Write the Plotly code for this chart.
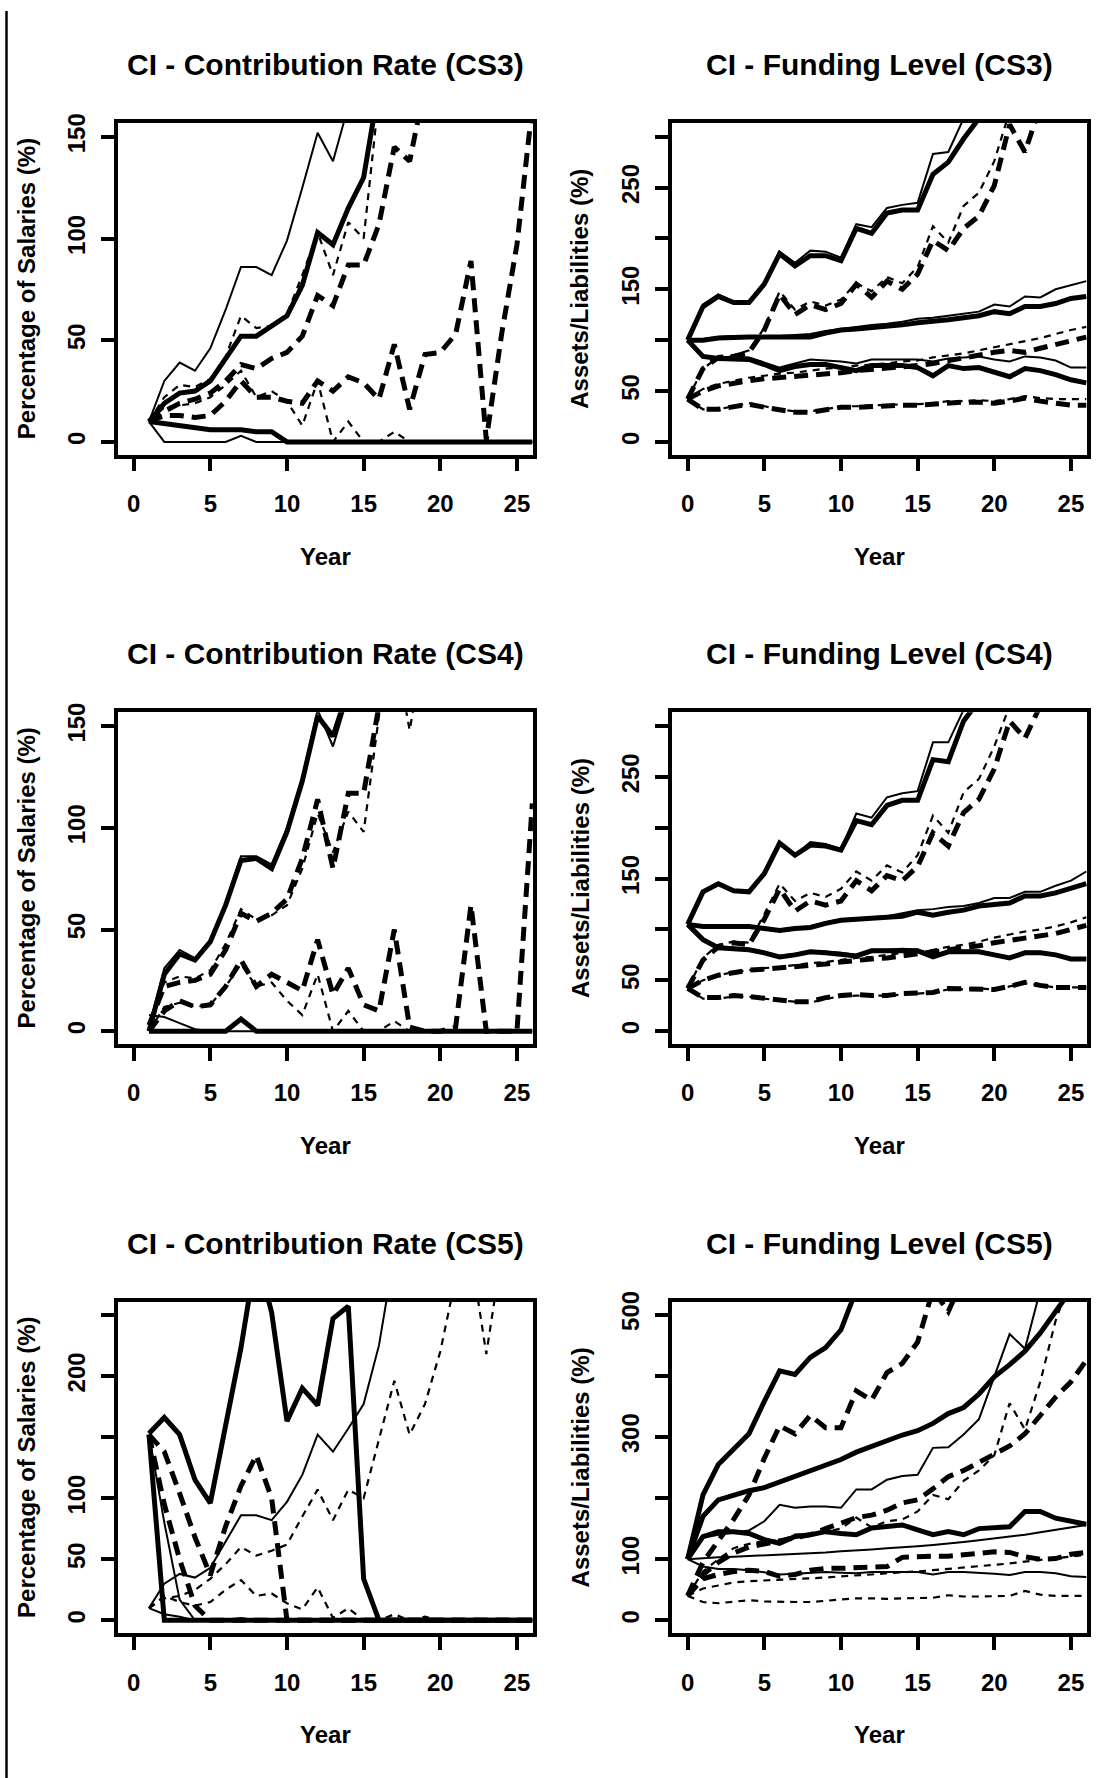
import plotly.graph_objects as go

# ---------------- data ----------------
YEARS_CR = list(range(1, 27))   # contribution-rate panels start at year 1
YEARS_FL = list(range(0, 27))   # funding-level panels start at year 0
X_TICKS = [0, 5, 10, 15, 20, 25]

# CS3 contribution rate
cs3_cr_thin_solid_hi = [10, 30, 39, 35, 46, 65, 86, 86, 82, 99, 125, 152, 138, 165]
cs3_cr_thick_solid_hi = [10, 19, 24, 25, 30, 41, 52, 52, 57, 62, 77, 103, 97, 115, 130, 175]
cs3_cr_thin_dash_hi = [10, 22, 28, 27, 31, 42, 62, 56, 57, 63, 82, 103, 82, 108, 100, 170]
cs3_cr_thick_dash_hi = [10, 15, 19, 21, 24, 30, 38, 36, 41, 44, 52, 72, 67, 87, 87, 107, 145, 138, 175]
cs3_cr_thick_dash_mid = [10, 13, 13, 12, 13, 20, 30, 22, 22, 20, 19, 30, 25, 32, 29, 21, 48, 16, 43, 44, 53, 89, 1, 53, 97, 165]
cs3_cr_thin_dash_lo = [10, 17, 18, 19, 22, 28, 35, 22, 25, 20, 8, 30, 0, 10, 0, 0, 5, 0, 0, 0, 0, 0, 0, 0, 0, 0]
cs3_cr_thick_solid_lo = [10, 9, 8, 7, 6, 6, 6, 5, 5, 0, 0, 0, 0, 0, 0, 0, 0, 0, 0, 0, 0, 0, 0, 0, 0, 0]
cs3_cr_thin_solid_lo = [10, 0, 0, 0, 0, 0, 3, 0, 0, 0, 0, 0, 0, 0, 0, 0, 0, 0, 0, 0, 0, 0, 0, 0, 0, 0]

# CS3 funding level
fl3_thick_solid_hi = [100, 133, 143, 137, 137, 155, 185, 173, 183, 183, 178, 210, 205, 225, 228, 228, 263, 275, 298, 318]
fl3_thin_solid_hi = [100, 135, 145, 138, 138, 157, 187, 176, 188, 187, 181, 214, 211, 230, 233, 235, 283, 285, 318]
fl3_thin_solid_mid = [100, 101, 103, 104, 104, 104, 104, 105, 106, 109, 111, 113, 115, 116, 118, 121, 122, 124, 126, 128, 135, 133, 143, 142, 150, 154, 158]
fl3_thick_solid_mid = [100, 100, 102, 103, 103, 103, 103, 103, 103, 107, 110, 111, 112, 113, 115, 117, 118, 120, 122, 124, 128, 126, 133, 133, 136, 141, 143]
fl3_thin_solid_lo = [100, 85, 83, 84, 83, 78, 73, 77, 81, 80, 79, 77, 81, 81, 81, 81, 79, 82, 83, 84, 81, 79, 84, 83, 80, 73, 73]
fl3_thick_solid_lo = [100, 84, 82, 82, 81, 76, 70, 74, 76, 76, 73, 70, 75, 75, 75, 73, 65, 75, 72, 73, 68, 64, 72, 70, 66, 61, 58]
fl3_thick_dash_hi = [42, 72, 83, 84, 88, 110, 145, 125, 135, 130, 136, 155, 142, 158, 150, 165, 198, 188, 210, 222, 252, 312, 285, 330]
fl3_thin_dash_hi = [42, 72, 83, 85, 90, 112, 148, 130, 138, 134, 140, 156, 148, 162, 156, 172, 212, 196, 232, 245, 276, 325]
fl3_thin_dash_mid = [42, 52, 57, 60, 63, 65, 67, 68, 70, 72, 73, 75, 76, 77, 79, 80, 83, 85, 87, 90, 93, 96, 99, 102, 106, 110, 113]
fl3_thick_dash_mid = [42, 50, 55, 58, 60, 62, 63, 64, 65, 67, 68, 70, 71, 72, 74, 75, 77, 80, 82, 85, 88, 90, 88, 92, 96, 100, 103]
fl3_thin_dash_lo = [42, 32, 32, 35, 38, 35, 32, 30, 30, 32, 35, 35, 36, 36, 37, 37, 38, 40, 40, 41, 40, 42, 45, 43, 42, 42, 42]
fl3_thick_dash_lo = [42, 32, 32, 35, 37, 34, 31, 29, 29, 31, 34, 34, 35, 35, 36, 36, 37, 39, 39, 39, 38, 40, 43, 40, 38, 36, 36]

# CS4 contribution rate
cs4_cr_thin_solid_hi = [2, 31, 40, 36, 45, 63, 86, 86, 82, 100, 125, 158, 140, 165]
cs4_cr_thick_solid_hi = [0, 28, 38, 35, 44, 62, 84, 85, 80, 98, 123, 155, 145, 168]
cs4_cr_thin_dash_hi = [4, 24, 27, 26, 30, 43, 60, 55, 57, 62, 80, 107, 88, 108, 98, 155, 190, 148, 190]
cs4_cr_thick_dash_hi = [3, 22, 24, 25, 28, 40, 58, 54, 58, 65, 85, 114, 80, 117, 117, 160]
cs4_cr_thick_dash_mid = [0, 10, 15, 12, 13, 22, 35, 22, 28, 24, 20, 45, 18, 31, 13, 10, 50, 2, 0, 0, 2, 62, 0, 0, 0, 112]
cs4_cr_thin_dash_lo = [0, 12, 14, 12, 13, 22, 33, 22, 24, 15, 8, 28, 0, 10, 0, 0, 5, 0, 0, 0, 0, 0, 0, 0, 0, 0]
cs4_cr_thick_solid_lo = [0, 0, 0, 0, 0, 0, 6, 0, 0, 0, 0, 0, 0, 0, 0, 0, 0, 0, 0, 0, 0, 0, 0, 0, 0, 0]
cs4_cr_thin_solid_lo = [8, 7, 4, 1, 0, 0, 0, 0, 0, 0, 0, 0, 0, 0, 0, 0, 0, 0, 0, 0, 0, 0, 0, 0, 0, 0]

# CS4 funding level
fl4_thin_solid_hi = [105, 137, 145, 138, 137, 155, 185, 173, 186, 184, 179, 214, 210, 230, 234, 236, 284, 284, 316]
fl4_thick_solid_hi = [105, 137, 145, 138, 137, 155, 185, 173, 183, 182, 178, 207, 203, 222, 227, 227, 267, 265, 305, 325]
fl4_thin_solid_mid = [105, 103, 103, 103, 103, 101, 100, 102, 103, 107, 110, 111, 112, 113, 116, 119, 120, 122, 123, 126, 131, 131, 137, 137, 143, 148, 157]
fl4_thick_solid_mid = [105, 103, 103, 103, 103, 101, 99, 101, 102, 106, 109, 110, 111, 111, 113, 117, 114, 117, 119, 123, 125, 126, 133, 133, 136, 140, 145]
fl4_thick_solid_lo = [105, 90, 82, 81, 80, 77, 73, 75, 78, 77, 76, 74, 79, 79, 80, 79, 73, 78, 78, 78, 75, 72, 77, 77, 75, 71, 71]
fl4_thin_solid_lo = [105, 91, 83, 82, 81, 78, 74, 76, 79, 78, 77, 75, 80, 80, 81, 80, 74, 79, 79, 79, 76, 73, 78, 78, 76, 72, 72]
fl4_thick_dash_hi = [42, 70, 83, 87, 85, 110, 140, 118, 128, 124, 128, 148, 138, 153, 148, 162, 195, 182, 215, 228, 258, 305, 288, 320]
fl4_thin_dash_hi = [42, 72, 85, 88, 87, 115, 145, 128, 136, 132, 140, 157, 148, 163, 156, 173, 212, 195, 235, 248, 280, 320]
fl4_thin_dash_mid = [42, 50, 55, 58, 60, 62, 63, 65, 67, 68, 70, 72, 73, 75, 77, 78, 80, 83, 85, 88, 92, 95, 98, 100, 103, 107, 112]
fl4_thick_dash_mid = [42, 50, 55, 58, 60, 61, 62, 63, 64, 66, 68, 70, 71, 72, 74, 75, 77, 79, 81, 84, 87, 89, 91, 93, 96, 100, 104]
fl4_thick_dash_lo = [42, 33, 33, 35, 34, 32, 30, 29, 29, 33, 35, 36, 35, 35, 37, 37, 38, 42, 42, 42, 41, 44, 48, 45, 43, 43, 43]
fl4_thin_dash_lo = [42, 32, 32, 34, 34, 32, 30, 29, 28, 32, 34, 35, 35, 35, 36, 37, 38, 41, 41, 42, 41, 44, 47, 45, 43, 43, 43]

# CS5 contribution rate
cs5_cr_thick_solid_hi = [153, 166, 152, 115, 96, 160, 223, 300, 252, 163, 190, 176, 247, 257, 34, 0, 0, 0, 0, 0, 0, 0, 0, 0, 0, 0]
cs5_cr_thin_solid_hi = [10, 30, 38, 35, 43, 65, 86, 86, 82, 97, 119, 152, 138, 157, 177, 225, 300]
cs5_cr_thick_dash_hi = [152, 138, 104, 68, 37, 77, 110, 135, 100, 0, 0, 0, 0, 0, 0, 0, 0, 0, 0, 0, 0, 0, 0, 0, 0, 0]
cs5_cr_thick_dash_drop = [152, 95, 50, 12, 0, 0, 0, 0, 0, 0, 0, 0, 0, 0, 0, 0, 0, 0, 0, 0, 0, 0, 0, 0, 0, 0]
cs5_cr_thick_solid_drop = [152, 0, 0, 0, 0, 0, 0, 0, 0, 0, 0, 0, 0, 0, 0, 0, 0, 0, 0, 0, 0, 0, 0, 0, 0, 0]
cs5_cr_thin_solid_drop = [152, 80, 17, 0, 0, 0, 0, 0, 0, 0, 0, 0, 0, 0, 0, 0, 0, 0, 0, 0, 0, 0, 0, 0, 0, 0]
cs5_cr_thin_dash_hi = [10, 18, 20, 25, 34, 46, 60, 53, 57, 62, 85, 107, 82, 107, 100, 149, 196, 152, 177, 220, 280, 300, 218, 300]
cs5_cr_thin_dash_lo = [10, 20, 15, 12, 15, 25, 33, 20, 22, 14, 9, 27, 2, 10, 0, 0, 5, 0, 3, 0, 0, 0, 0, 0, 0, 0]
cs5_cr_thin_solid_lo = [10, 5, 3, 0, 0, 0, 2, 0, 0, 0, 0, 0, 0, 0, 0, 0, 0, 0, 0, 0, 0, 0, 0, 0, 0, 0]

# CS5 funding level
fl5_thick_solid_hi = [100, 205, 255, 280, 305, 358, 408, 402, 430, 446, 475, 540]
fl5_thick_dash_hi = [40, 95, 130, 165, 205, 265, 318, 305, 335, 315, 315, 375, 360, 405, 420, 455, 540, 505, 560]
fl5_thick_solid_curve = [100, 170, 197, 205, 212, 217, 226, 237, 245, 255, 263, 275, 285, 293, 303, 310, 322, 338, 348, 370, 398, 418, 440, 470, 503, 540]
fl5_thin_solid_hi = [100, 135, 140, 143, 147, 162, 189, 184, 186, 186, 184, 214, 214, 230, 236, 238, 282, 283, 304, 329, 397, 468, 444, 540]
fl5_thick_solid_mid = [100, 137, 145, 145, 142, 132, 126, 137, 140, 145, 142, 140, 151, 154, 156, 148, 140, 145, 140, 150, 151, 153, 178, 178, 167, 163, 157]
fl5_thin_solid_mid = [100, 102, 103, 104, 105, 106, 107, 108, 109, 111, 113, 114, 116, 118, 119, 121, 123, 125, 128, 131, 134, 136, 140, 144, 148, 152, 156]
fl5_thin_solid_lo = [100, 88, 84, 84, 82, 78, 75, 76, 78, 79, 78, 77, 79, 79, 79, 79, 75, 79, 79, 78, 76, 74, 79, 79, 77, 72, 71]
fl5_thick_dash_up2 = [40, 75, 95, 110, 120, 125, 130, 135, 140, 150, 160, 168, 172, 180, 192, 197, 215, 235, 245, 258, 270, 285, 305, 335, 365, 390, 425]
fl5_thin_dash_hi = [40, 80, 100, 118, 125, 130, 130, 140, 140, 145, 150, 168, 152, 162, 165, 178, 205, 198, 228, 245, 270, 355, 312, 390, 490, 560]
fl5_thick_dash_mid = [40, 68, 75, 80, 82, 80, 72, 75, 82, 85, 85, 86, 85, 88, 103, 105, 105, 105, 108, 110, 112, 111, 104, 100, 101, 108, 111]
fl5_thin_dash_mid = [40, 52, 57, 62, 64, 65, 66, 67, 68, 70, 72, 73, 75, 77, 78, 80, 82, 84, 86, 88, 90, 93, 96, 99, 101, 104, 107]
fl5_thin_dash_lo = [40, 30, 28, 30, 33, 31, 30, 30, 30, 32, 35, 36, 36, 35, 36, 37, 37, 41, 39, 39, 39, 40, 48, 42, 40, 40, 40]

# ---------------- styling ----------------
W, H = 1108, 1778
FONT = "Liberation Sans"
STYLES = {
    "thick": dict(width=5, dash="solid"),
    "thin": dict(width=2, dash="solid"),
    "thickdash": dict(width=5, dash="14px,8px"),
    "thindash": dict(width=2.2, dash="7px,6px"),
}

def px_x(p):
    return p / W

def px_y(p):
    return 1 - p / H

LEFT_DOM = [px_x(117.7), px_x(532.9)]
RIGHT_DOM = [px_x(671.7), px_x(1086.9)]
ROW_TOPS = [112.7, 705.7, 1298.7]
BOX_H = 333.6

panels = [
    dict(col=0, row=0, years=YEARS_CR, title="CI - Contribution Rate (CS3)", ytitle="Percentage of Salaries (%)",
         yrange=[-6.2, 156.8], ytick=[0, 50, 100, 150], ytext=["0", "50", "100", "150"],
         series=[(cs3_cr_thin_solid_hi, "thin"), (cs3_cr_thick_solid_hi, "thick"),
                 (cs3_cr_thin_dash_hi, "thindash"), (cs3_cr_thick_dash_hi, "thickdash"),
                 (cs3_cr_thick_dash_mid, "thickdash"), (cs3_cr_thin_dash_lo, "thindash"),
                 (cs3_cr_thin_solid_lo, "thin"), (cs3_cr_thick_solid_lo, "thick")]),
    dict(col=1, row=0, years=YEARS_FL, title="CI - Funding Level (CS3)", ytitle="Assets/Liabilities (%)",
         yrange=[-12.5, 313.5], ytick=[0, 50, 100, 150, 200, 250, 300], ytext=["0", "50", "", "150", "", "250", ""],
         series=[(fl3_thick_solid_hi, "thick"), (fl3_thin_solid_hi, "thin"),
                 (fl3_thin_solid_mid, "thin"), (fl3_thick_solid_mid, "thick"),
                 (fl3_thin_solid_lo, "thin"), (fl3_thick_solid_lo, "thick"),
                 (fl3_thick_dash_hi, "thickdash"), (fl3_thin_dash_hi, "thindash"),
                 (fl3_thin_dash_mid, "thindash"), (fl3_thick_dash_mid, "thickdash"),
                 (fl3_thin_dash_lo, "thindash"), (fl3_thick_dash_lo, "thickdash")]),
    dict(col=0, row=1, years=YEARS_CR, title="CI - Contribution Rate (CS4)", ytitle="Percentage of Salaries (%)",
         yrange=[-6.2, 156.8], ytick=[0, 50, 100, 150], ytext=["0", "50", "100", "150"],
         series=[(cs4_cr_thin_solid_hi, "thin"), (cs4_cr_thick_solid_hi, "thick"),
                 (cs4_cr_thin_dash_hi, "thindash"), (cs4_cr_thick_dash_hi, "thickdash"),
                 (cs4_cr_thick_dash_mid, "thickdash"), (cs4_cr_thin_dash_lo, "thindash"),
                 (cs4_cr_thin_solid_lo, "thin"), (cs4_cr_thick_solid_lo, "thick")]),
    dict(col=1, row=1, years=YEARS_FL, title="CI - Funding Level (CS4)", ytitle="Assets/Liabilities (%)",
         yrange=[-12.5, 313.5], ytick=[0, 50, 100, 150, 200, 250, 300], ytext=["0", "50", "", "150", "", "250", ""],
         series=[(fl4_thick_solid_hi, "thick"), (fl4_thin_solid_hi, "thin"),
                 (fl4_thin_solid_mid, "thin"), (fl4_thick_solid_mid, "thick"),
                 (fl4_thin_solid_lo, "thin"), (fl4_thick_solid_lo, "thick"),
                 (fl4_thick_dash_hi, "thickdash"), (fl4_thin_dash_hi, "thindash"),
                 (fl4_thin_dash_mid, "thindash"), (fl4_thick_dash_mid, "thickdash"),
                 (fl4_thin_dash_lo, "thindash"), (fl4_thick_dash_lo, "thickdash")]),
    dict(col=0, row=2, years=YEARS_CR, title="CI - Contribution Rate (CS5)", ytitle="Percentage of Salaries (%)",
         yrange=[-10.5, 260.8], ytick=[0, 50, 100, 150, 200, 250], ytext=["0", "50", "100", "", "200", ""],
         series=[(cs5_cr_thick_solid_hi, "thick"), (cs5_cr_thin_solid_hi, "thin"),
                 (cs5_cr_thick_dash_hi, "thickdash"), (cs5_cr_thick_dash_drop, "thickdash"),
                 (cs5_cr_thick_solid_drop, "thick"), (cs5_cr_thin_solid_drop, "thin"),
                 (cs5_cr_thin_dash_hi, "thindash"), (cs5_cr_thin_dash_lo, "thindash"),
                 (cs5_cr_thin_solid_lo, "thin")]),
    dict(col=1, row=2, years=YEARS_FL, title="CI - Funding Level (CS5)", ytitle="Assets/Liabilities (%)",
         yrange=[-21, 521], ytick=[0, 100, 200, 300, 400, 500], ytext=["0", "100", "", "300", "", "500"],
         series=[(fl5_thick_solid_hi, "thick"), (fl5_thick_dash_hi, "thickdash"),
                 (fl5_thick_solid_curve, "thick"), (fl5_thin_solid_hi, "thin"),
                 (fl5_thick_solid_mid, "thick"), (fl5_thin_solid_mid, "thin"),
                 (fl5_thin_solid_lo, "thin"), (fl5_thick_dash_up2, "thickdash"),
                 (fl5_thin_dash_hi, "thindash"), (fl5_thick_dash_mid, "thickdash"),
                 (fl5_thin_dash_mid, "thindash"), (fl5_thin_dash_lo, "thindash")]),
]

fig = go.Figure()
layout = dict(
    width=W, height=H, autosize=False,
    margin=dict(l=0, r=0, t=0, b=0),
    paper_bgcolor="white", plot_bgcolor="white",
    showlegend=False,
    font=dict(family=FONT, color="black"),
)
annotations = []
tickfont = dict(family=FONT, size=24, color="black", weight="bold")

for i, p in enumerate(panels, start=1):
    xname = "x" if i == 1 else f"x{i}"
    yname = "y" if i == 1 else f"y{i}"
    xdom = LEFT_DOM if p["col"] == 0 else RIGHT_DOM
    top = ROW_TOPS[p["row"]]
    bottom = top + BOX_H
    ydom = [px_y(bottom), px_y(top)]
    for vals, st in p["series"]:
        s = STYLES[st]
        fig.add_trace(go.Scatter(
            x=p["years"][:len(vals)], y=vals, mode="lines",
            line=dict(color="black", width=s["width"], dash=s["dash"]),
            xaxis=xname, yaxis=yname, hoverinfo="skip"))
    common = dict(showline=True, mirror=True, linewidth=3.5, linecolor="black",
                  showgrid=False, zeroline=False, ticks="outside", ticklen=13,
                  tickwidth=3.5, tickcolor="black", tickfont=tickfont)
    layout["xaxis" if i == 1 else f"xaxis{i}"] = dict(
        domain=xdom, anchor=yname, range=[-1.04, 26.04],
        tickmode="array", tickvals=X_TICKS, ticktext=[str(v) for v in X_TICKS],
        ticklabelstandoff=12, **common)
    layout["yaxis" if i == 1 else f"yaxis{i}"] = dict(
        domain=ydom, anchor=xname, range=p["yrange"],
        tickmode="array", tickvals=p["ytick"], ticktext=p["ytext"],
        tickangle=-90, ticklabelstandoff=6, **common)
    cx = (xdom[0] + xdom[1]) / 2
    annotations.append(dict(text=p["title"], x=cx, y=px_y(top - 59), xref="paper", yref="paper",
                            showarrow=False, xanchor="center", yanchor="middle",
                            font=dict(family=FONT, size=30, color="black", weight="bold")))
    annotations.append(dict(text="Year", x=cx, y=px_y(top + 436), xref="paper", yref="paper",
                            showarrow=False, xanchor="center", yanchor="middle",
                            font=dict(family=FONT, size=24, color="black", weight="bold")))
    ytx = 26.5 if p["col"] == 0 else 580
    annotations.append(dict(text=p["ytitle"], x=px_x(ytx), y=px_y(top + BOX_H / 2), xref="paper", yref="paper",
                            showarrow=False, xanchor="center", yanchor="middle", textangle=-90,
                            font=dict(family=FONT, size=24, color="black", weight="bold")))

layout["annotations"] = annotations
layout["shapes"] = [dict(type="line", xref="paper", yref="paper", x0=px_x(6.5), x1=px_x(6.5),
                         y0=0, y1=1, line=dict(color="black", width=2.5))]
fig.update_layout(**layout)
fig.write_html("out.html", config={"displayModeBar": False},
               post_script="document.body.style.margin='0';document.body.style.overflow='hidden';")
